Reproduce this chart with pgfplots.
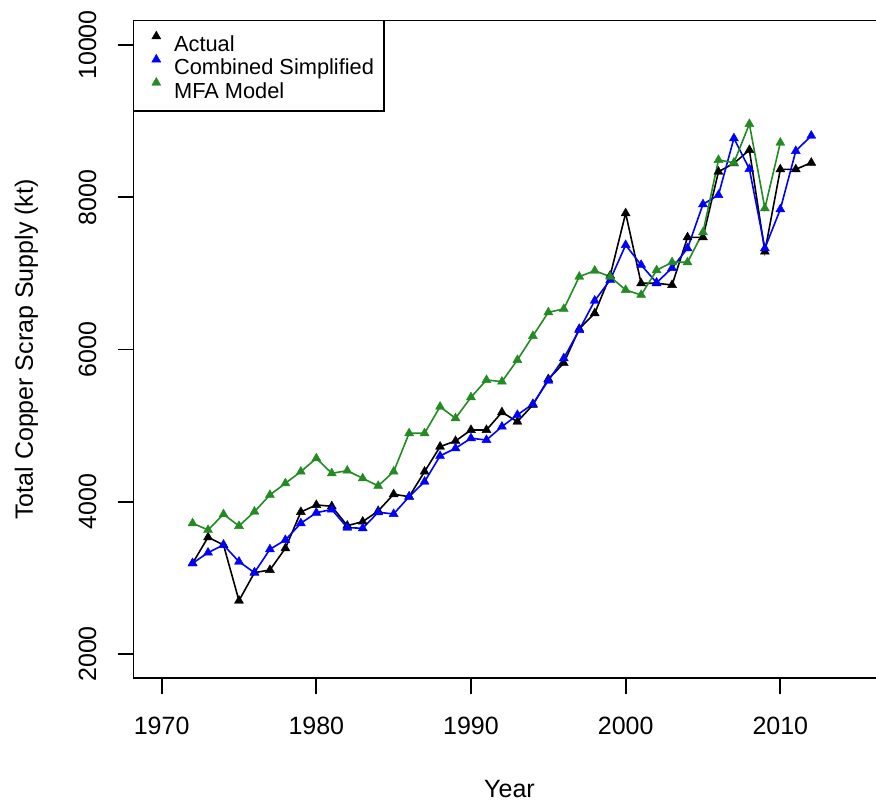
\documentclass[border=0pt]{standalone}
\usepackage{fontspec}
\setmainfont{Liberation Sans}
\usepackage{pgfplots}
\usepackage{pgfplotstable}
\pgfplotsset{compat=1.18}
\definecolor{rgreen}{RGB}{34,139,34}
\definecolor{rblue}{RGB}{0,0,255}

\pgfplotstableread{
year val
1972 3191
1973 3533
1974 3432
1975 2700
1976 3068
1977 3103
1978 3388
1979 3865
1980 3957
1981 3940
1982 3685
1983 3738
1984 3878
1985 4098
1986 4066
1987 4395
1988 4723
1989 4798
1990 4942
1991 4942
1992 5175
1993 5051
1994 5271
1995 5610
1996 5820
1997 6270
1998 6475
1999 6970
2000 7789
2001 6869
2002 6869
2003 6847
2004 7473
2005 7473
2006 8335
2007 8445
2008 8620
2009 7285
2010 8366
2011 8366
2012 8453
}\actual

\pgfplotstableread{
year val
1972 3191
1973 3331
1974 3432
1975 3212
1976 3068
1977 3375
1978 3497
1979 3717
1980 3855
1981 3898
1982 3659
1983 3651
1984 3861
1985 3839
1986 4066
1987 4263
1988 4601
1989 4702
1990 4833
1991 4811
1992 4986
1993 5140
1994 5284
1995 5590
1996 5884
1997 6256
1998 6641
1999 6913
2000 7372
2001 7110
2002 6877
2003 7070
2004 7329
2005 7907
2006 8029
2007 8774
2008 8370
2009 7329
2010 7841
2011 8607
2012 8808
}\combined

\pgfplotstableread{
year val
1972 3717
1973 3629
1974 3835
1975 3681
1976 3869
1977 4089
1978 4242
1979 4395
1980 4570
1981 4373
1982 4408
1983 4307
1984 4207
1985 4395
1986 4899
1987 4899
1988 5248
1989 5096
1990 5372
1991 5599
1992 5577
1993 5862
1994 6177
1995 6488
1996 6532
1997 6956
1998 7035
1999 6956
2000 6781
2001 6716
2002 7040
2003 7145
2004 7145
2005 7539
2006 8489
2007 8453
2008 8962
2009 7854
2010 8716
}\mfa

\begin{document}
\begin{tikzpicture}
\begin{axis}[
  at={(0pt,0pt)}, anchor=south west,
  scale only axis, width=752pt, height=657.7pt,
  xmin=1968.18, xmax=2016.8, ymin=1680, ymax=10320,
  axis line style={line width=1.8pt},
  xtick={1970,1980,1990,2000,2010},
  ytick={2000,4000,6000,8000,10000},
  scaled y ticks=false, scaled x ticks=false,
  xtick pos=bottom, ytick pos=left,
  tick align=outside, major tick length=16pt,
  tick style={line width=1.8pt, black},
  /pgf/number format/assume math mode=true,
  /pgf/number format/1000 sep={},
  ticklabel style={font=\fontsize{25}{30}\selectfont},
  xticklabel style={anchor=north, inner sep=0pt},
  xticklabel shift=22.7pt,
  yticklabel style={rotate=90, anchor=base, inner sep=0pt},
  yticklabel shift=21.5pt,
  xlabel={Year},
  xlabel style={at={([yshift=-118.7pt]axis description cs:0.5,0)}, anchor=base, inner sep=0pt, font=\fontsize{25}{30}\selectfont},
  ylabel={Total Copper Scrap Supply (kt)},
  ylabel style={at={([xshift=-100.5pt]axis description cs:0,0.5)}, rotate=0, anchor=base, inner sep=0pt, font=\fontsize{25}{30}\selectfont},
  legend style={at={(0,1)}, anchor=north west, draw=black, line width=1.8pt, outer sep=0pt,
    inner xsep=10pt, inner ysep=10.5pt, row sep=0pt,
    font=\fontsize{21.8}{22}\selectfont,
    nodes={inner sep=0pt, text height=19.5pt, text depth=2.5pt},
    cells={anchor=west}},
  legend cell align=left,
  legend image code/.code={\path (0pt,0pt) (29pt,0pt); \draw[#1] plot coordinates {(12pt,7pt)};},
]
\addplot[black, line width=1.6pt, mark=triangle*, mark size=5.2pt, mark options={solid, line width=0.4pt}] table[x=year, y=val] {\actual};
\addlegendentry{Actual}
\addplot[rblue, line width=1.6pt, mark=triangle*, mark size=5.2pt, mark options={solid, line width=0.4pt}] table[x=year, y=val] {\combined};
\addlegendentry{Combined Simplified}
\addplot[rgreen, line width=1.6pt, mark=triangle*, mark size=5.2pt, mark options={solid, line width=0.4pt}] table[x=year, y=val] {\mfa};
\addlegendentry{MFA Model}
\end{axis}
\pgfresetboundingbox
\path[use as bounding box] (-133.5pt,-122.7pt) rectangle (742.5pt,678.3pt);
\end{tikzpicture}
\end{document}
